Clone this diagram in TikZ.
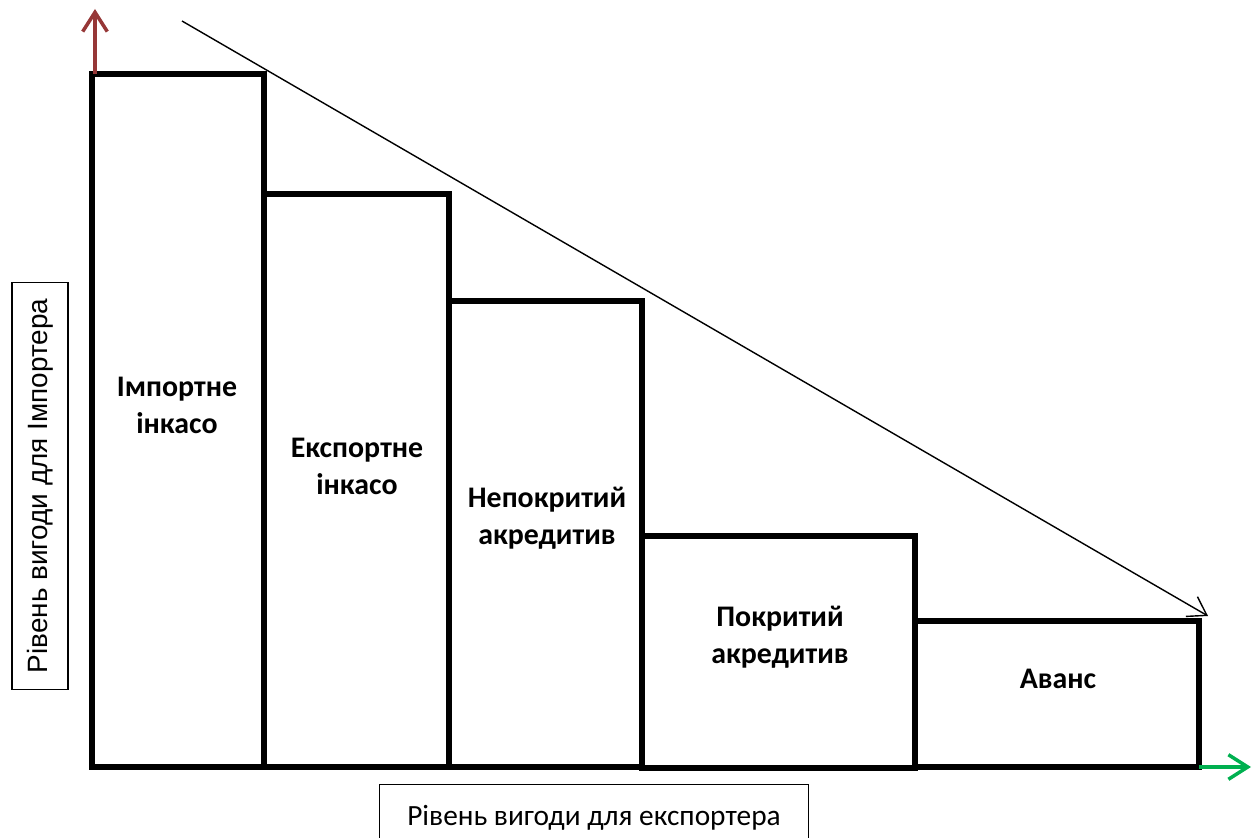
\documentclass[tikz,border=0pt]{standalone}
\usepackage{fontspec}
\setmainfont{Carlito}
\newfontfamily\arialfont{Liberation Sans}
\usepackage{xcolor}
\usetikzlibrary{arrows.meta,positioning}
\definecolor{axisred}{RGB}{150,55,55}
\definecolor{axisgreen}{RGB}{0,176,80}

\begin{document}
\begin{tikzpicture}[
            x = 0.02cm, y = -0.02cm,
            bar/.style = {line width = 3.1pt, line join = miter},
            barlabel/.style = {align = center, font = \fontsize{17}{21}\selectfont\bfseries},
            axislabel/.style = {draw, line width = 0.6pt, font = \fontsize{16.7}{20}\selectfont, inner sep = 0pt},
            axisarrow/.style = {line width = 2pt, -{Straight Barb[length = 11pt, width = 14pt]}}]
        \useasboundingbox (0,0) rectangle (1258,838);
        % bars
        \draw[bar] (92,767) rectangle (264,74);
        \draw[bar] (264,767) rectangle (449,194);
        \draw[bar] (449,767) rectangle (642,301);
        \draw[bar] (642,768) rectangle (915,536);
        \draw[bar] (915,767) rectangle (1199,621);
        \node[barlabel] (nimp) at (177,405) {Імпортне\\інкасо};
        \node[barlabel] (nexp) at (357,466) {Експортне\\інкасо};
        \node[barlabel] (nunc) at (547,518) {Непокритий\\акредитив};
        \node[barlabel] (ncov) at (780,637) {Покритий\\акредитив};
        \node[barlabel] (nadv) at (1058,679) {Аванс};
        % axes
        \coordinate (oy) at (95,74);
        \coordinate (ty) at (95,9);
        \coordinate (ox) at (1199,767);
        \coordinate (tx) at (1251,767);
        \draw[axisarrow, axisred] (oy) -- (ty);
        \draw[axisarrow, axisgreen] (ox) -- (tx);
        \coordinate (ds) at (182,21);
        \coordinate (de) at (1208,616);
        \draw[line width = 0.8pt, -{Straight Barb[length = 10pt, width = 13pt]}] (ds) -- (de);
        \node[axislabel, minimum width = 407*0.02cm, minimum height = 56*0.02cm,
              rotate = 90, font = \arialfont\fontsize{15.9}{19}\selectfont] (limp) at (40,486) {Рівень вигоди для Імпортера};
        \node[axislabel, anchor = north west, minimum width = 429*0.02cm, minimum height = 66*0.02cm] (lexp) at (379,784) {Рівень вигоди для експортера};
\end{tikzpicture}
\end{document}
